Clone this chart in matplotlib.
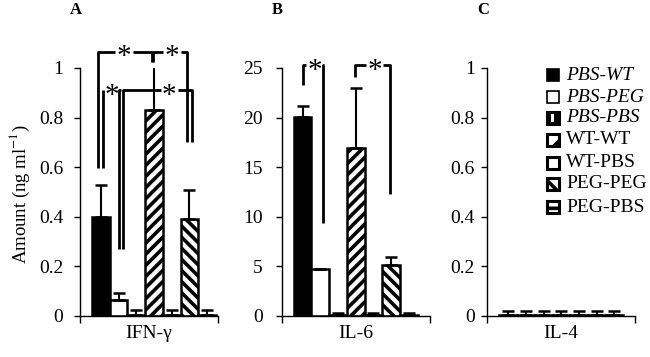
import matplotlib
matplotlib.use("Agg")
import matplotlib.pyplot as plt
from matplotlib.patches import Rectangle

plt.rcParams['font.family'] = ['Liberation Serif', 'DejaVu Serif']
plt.rcParams['mathtext.fontset'] = 'stix'
plt.rcParams['hatch.linewidth'] = 2.6

groups = ["PBS-WT", "PBS-PEG", "PBS-PBS", "WT-WT", "WT-PBS", "PEG-PEG", "PEG-PBS"]
cytokines = ["IFN-γ", "IL-6", "IL-4"]
panel_letters = ["A", "B", "C"]

ifn_vals = [0.40, 0.065, 0.005, 0.83, 0.005, 0.39, 0.005]
ifn_err = [0.13, 0.028, 0.018, 0.18, 0.018, 0.12, 0.018]
il6_vals = [20.1, 4.7, 0.1, 16.9, 0.1, 5.1, 0.1]
il6_err = [1.1, 0.0, 0.25, 6.05, 0.25, 0.85, 0.2]
il4_vals = [0.005, 0.005, 0.005, 0.005, 0.005, 0.005, 0.005]
il4_err = [0.016, 0.016, 0.016, 0.016, 0.016, 0.016, 0.016]

yticks_list = [[0, 0.2, 0.4, 0.6, 0.8, 1], [0, 5, 10, 15, 20, 25], [0, 0.2, 0.4, 0.6, 0.8, 1]]
ytick_labels_list = [["0", "0.2", "0.4", "0.6", "0.8", "1"],
                     ["0", "5", "10", "15", "20", "25"],
                     ["0", "0.2", "0.4", "0.6", "0.8", "1"]]
ymax_list = [1, 25, 1]

# significance brackets: (x_left, x_right, y_top, y_left_end, y_right_end, star_x)
brackets_A = [
    (1.03, 4.05, 1.065, 0.597, 1.026, 2.5),
    (4.14, 6.04, 1.065, 1.026, 0.70, 5.2),
    (1.28, 2.20, 0.911, 0.597, 0.27, 1.8),
    (2.42, 6.35, 0.911, 0.27, 0.70, 5.05),
]
brackets_B = [
    (1.22, 2.35, 25.3, 23.3, 9.4, 1.9),
    (4.14, 6.12, 25.3, 24.1, 12.3, 5.25),
]
brackets_C = []

facecolors = ['black', 'white', 'white', 'white', 'white', 'white', 'white']
hatches = [None, None, '|', '///', None, '\\\\\\', '-']
leg_hatches = [None, None, None, '/', None, '\\', '-']
italic = [True, True, True, False, False, False, False]

W, H = 650, 357
fig = plt.figure(figsize=(6.5, 3.57), dpi=100)

ax_px = [(80, 138), (281.7, 148.3), (486.7, 148.3)]
bar_px = 17.7
offsets = [1.18, 1.18, 1.22]
pads = [8.0, 9.5, 4.5]
y0_px, ytop_px = 316, 68

data_vals = [ifn_vals, il6_vals, il4_vals]
data_errs = [ifn_err, il6_err, il4_err]
brackets_all = [brackets_A, brackets_B, brackets_C]

for k in range(3):
    left, width = ax_px[k]
    ax = fig.add_axes([left / W, (H - y0_px) / H, width / W, (y0_px - ytop_px) / H])
    xmax = width / bar_px
    xs = [offsets[k] + i for i in range(len(groups))]
    vals = data_vals[k]
    errs = data_errs[k]
    for i in range(len(groups)):
        ax.bar(xs[i], vals[i], width=1.0, color=facecolors[i], edgecolor='black',
               linewidth=1.8, hatch=hatches[i], zorder=2)
    ax.errorbar(xs, vals, yerr=[[0] * len(vals), errs], fmt='none', ecolor='black',
                elinewidth=1.5, capsize=4, capthick=1.8, zorder=3)
    ax.set_xlim(0, xmax)
    ax.set_ylim(0, ymax_list[k])
    ax.set_yticks(yticks_list[k])
    ax.set_yticklabels(ytick_labels_list[k], fontsize=14)
    ax.set_xticks([0, xmax])
    ax.set_xticklabels([])
    for s in ['top', 'right']:
        ax.spines[s].set_visible(False)
    for s in ['left', 'bottom']:
        ax.spines[s].set_linewidth(1.0)
    ax.tick_params(axis='y', direction='out', length=4, width=1.0, pad=pads[k])
    ax.tick_params(axis='x', direction='out', length=5, width=1.0)
    ax.patch.set_alpha(0)
    ax.text(0.5, -0.07, cytokines[k], transform=ax.transAxes, ha='center', va='center', fontsize=14)
    fig.text((left - 4) / W, 1 - 10 / H, panel_letters[k], fontsize=12, fontweight='bold',
             ha='center', va='center')
    for (xl, xr, yt, yle, yre, sx) in brackets_all[k]:
        gap = 0.5
        kw = dict(color='black', lw=2.0, clip_on=False, solid_capstyle='butt', zorder=4)
        ax.plot([xl, xl, sx - gap], [yle, yt, yt], **kw)
        ax.plot([sx + gap, xr, xr], [yt, yt, yre], **kw)
        ax.annotate('*', xy=(sx, yt), xytext=(0, -4), textcoords='offset points',
                    ha='center', va='center', fontsize=21, annotation_clip=False, zorder=5)

fig.text(20 / W, 1 - 194 / H, r'Amount (ng ml$^{-1}$)', rotation=90, ha='center', va='center', fontsize=13.5)

# legend
rows = [75, 97, 118, 140, 163, 184, 207]
sq = 12
for i, g in enumerate(groups):
    cy = rows[i]
    x0 = 547
    ybot = H - cy - sq / 2
    lw = 1.2 if i < 2 else 2.2
    fc = 'black' if i in (0, 2) else 'white'
    r = Rectangle((x0 / W, ybot / H), sq / W, sq / H, transform=fig.transFigure,
                  facecolor=fc, edgecolor='black', linewidth=lw, hatch=leg_hatches[i])
    fig.add_artist(r)
    if i == 2:
        fig.add_artist(Rectangle(((x0 + 4) / W, (ybot + 2.5) / H), 3 / W, 7 / H,
                                 transform=fig.transFigure, facecolor='white', edgecolor='none'))
    if i == 4:
        fig.add_artist(Rectangle(((x0 + 3) / W, (ybot + 4.5) / H), 6 / W, 3 / H,
                                 transform=fig.transFigure, facecolor='white', edgecolor='black',
                                 linewidth=0))
    fig.text(566 / W, 1 - cy / H, g, fontsize=14, ha='left', va='center',
             style='italic' if italic[i] else 'normal')

fig.savefig("out.png", dpi=100)
